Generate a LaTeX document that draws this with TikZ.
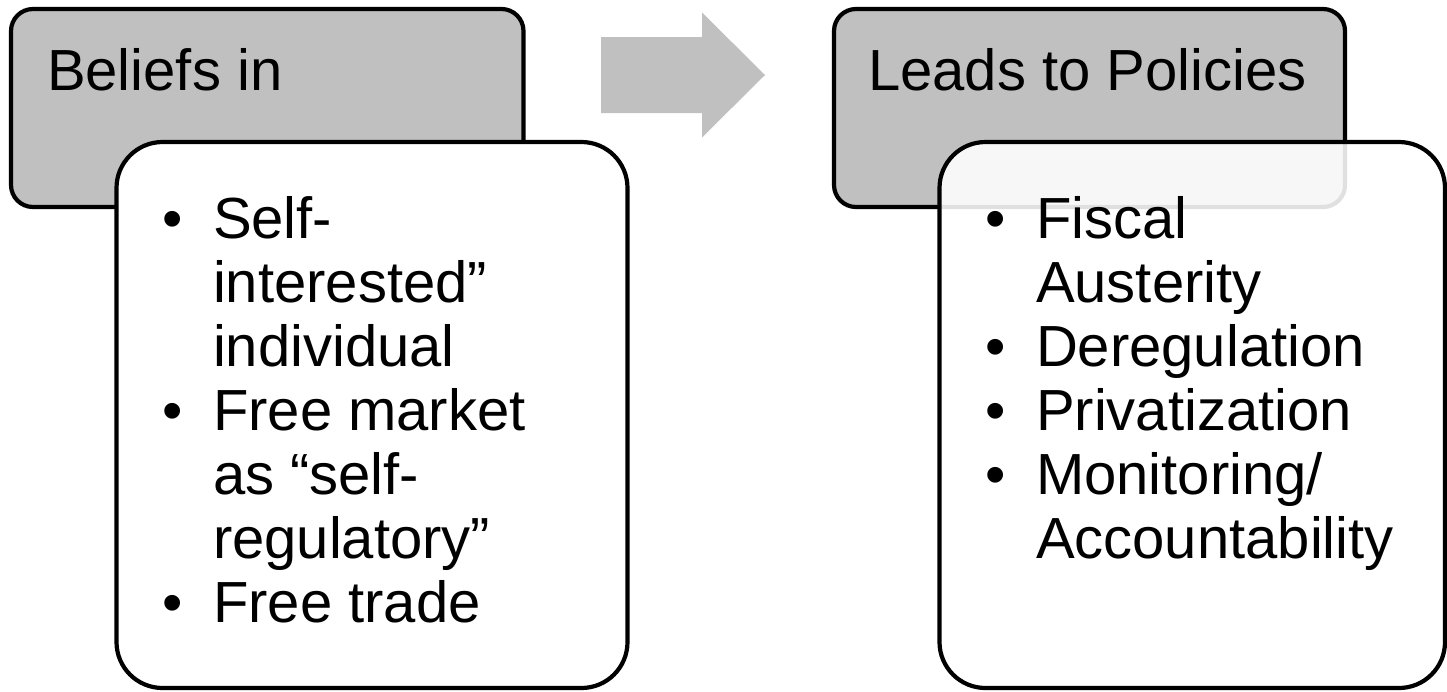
\documentclass[tikz,border=0pt]{standalone}
\usepackage{fontspec}
\setmainfont{Liberation Sans}
\definecolor{boxgray}{RGB}{192,192,192}
\newcommand{\stackl}[1]{\vtop{\baselineskip=64pt\lineskiplimit=-200pt\relax #1}}
\begin{document}
\begin{tikzpicture}[x=1pt,y=-1pt,
  graybox/.style={draw=black, line width=4.2pt, fill=boxgray, rounded corners=22pt,
    outer sep=0pt, inner sep=0pt, anchor=north west},
  whitebox/.style={draw=black, line width=4.2pt, fill=white, rounded corners=46pt,
    outer sep=0pt, inner sep=0pt, anchor=north west},
  txt/.style={inner sep=0pt, outer sep=0pt, anchor=base west,
    font=\fontsize{58}{64}\selectfont},
  bul/.style={inner sep=0pt, outer sep=0pt, anchor=base west,
    font=\fontsize{58}{64}\selectfont}]
\useasboundingbox (0,0) rectangle (1447,691);
% left group
\node[graybox, minimum width=512.5pt, minimum height=198pt] (g1) at (11,9) {};
\node[whitebox, minimum width=511pt, minimum height=546pt] (w1) at (116.5,142) {};
% arrow
\fill[boxgray] (601,37) -- (702,37) -- (702,12.5) -- (765,75) -- (702,137.5) -- (702,113) -- (601,113) -- cycle;
% right group
\node[graybox, minimum width=511pt, minimum height=198pt] (g2) at (834,9) {};
\node[whitebox, fill opacity=0.88, minimum width=505.5pt, minimum height=546pt] (w2) at (939.5,142) {};
% titles
\node[txt] (t1) at (47,90) {Beliefs in};
\node[txt] (t2) at (868,90) {Leads to Policies};
% left bullets
\node[bul] (b11) at (162,238) {•};
\node[txt] (i11) at (213,238) {\stackl{\hbox{Self-}\hbox{interested”}\hbox{individual}}};
\node[bul] (b12) at (162,430) {•};
\node[txt] (i12) at (213,430) {\stackl{\hbox{Free market}\hbox{as “self-}\hbox{regulatory”}}};
\node[bul] (b13) at (162,622) {•};
\node[txt] (i13) at (213,622) {Free trade};
% right bullets
\node[bul] (b21) at (985,238) {•};
\node[txt] (i21) at (1036,238) {\stackl{\hbox{Fiscal}\hbox{Austerity}}};
\node[bul] (b22) at (985,366) {•};
\node[txt] (i22) at (1036,366) {Deregulation};
\node[bul] (b23) at (985,430) {•};
\node[txt] (i23) at (1036,430) {Privatization};
\node[bul] (b24) at (985,494) {•};
\node[txt] (i24) at (1036,494) {\stackl{\hbox{Monitoring/}\hbox{Accountability}}};
\end{tikzpicture}
\end{document}
